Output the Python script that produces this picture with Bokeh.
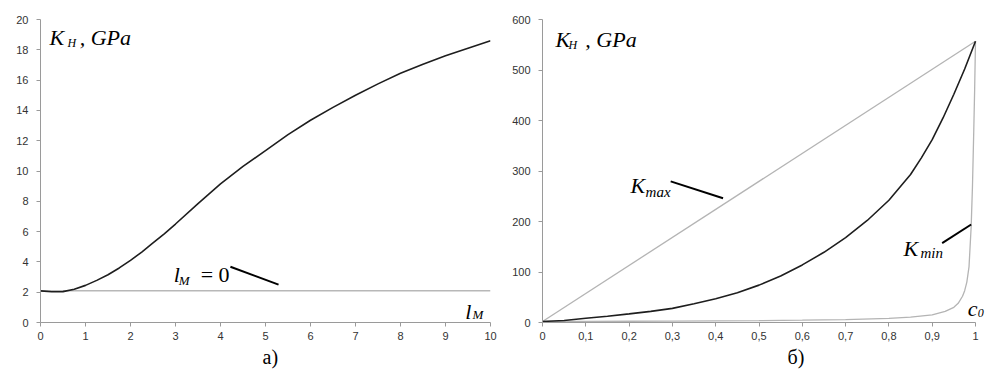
from bokeh.plotting import figure
from bokeh.layouts import row
from bokeh.models import Label, FixedTicker, Range1d, Title
from bokeh.embed import file_html
from bokeh.resources import INLINE

# ---- panel a) data ----
lm = [0, 0.25, 0.5, 0.75, 1, 1.25, 1.5, 1.75, 2, 2.25, 2.5, 2.75, 3, 3.5, 4, 4.5, 5, 5.5, 6,
      6.5, 7, 7.5, 8, 8.5, 9, 9.5, 10]
kh = [2.09, 2.03, 2.04, 2.2, 2.45, 2.78, 3.15, 3.6, 4.1, 4.65, 5.25, 5.85, 6.5, 7.85, 9.15,
      10.3, 11.35, 12.4, 13.35, 14.2, 15.0, 15.75, 16.45, 17.05, 17.6, 18.1, 18.6]
lm0_x = [0, 10]
lm0_y = [2.1, 2.1]
a_xticks = list(range(0, 11))
a_yticks = list(range(0, 21, 2))

# ---- panel б) data ----
c0 = [0, 0.05, 0.1, 0.15, 0.2, 0.25, 0.3, 0.35, 0.4, 0.45, 0.5, 0.55, 0.6, 0.65, 0.7, 0.75, 0.8,
      0.85, 0.875, 0.9, 0.925, 0.95, 0.975, 1.0]
kmid = [2, 4, 8.5, 12.5, 17, 22, 28, 37, 47, 59, 74, 92, 114, 139, 168, 202, 242, 293, 326,
        362, 405, 452, 502, 557]
kmax_x = [0, 1]
kmax_y = [2, 557]
kmin_x = [0, 0.1, 0.2, 0.3, 0.4, 0.5, 0.6, 0.7, 0.8, 0.85, 0.9, 0.93, 0.95, 0.96, 0.97, 0.975,
          0.98, 0.985, 0.99, 0.993, 0.996, 0.998, 1.0]
kmin_y = [2, 2.2, 2.5, 2.8, 3.2, 3.8, 4.6, 5.8, 8, 10.5, 15, 22, 30, 38, 52, 63, 80, 110, 190, 270,
          380, 460, 557]
b_xticks = [0, 0.1, 0.2, 0.3, 0.4, 0.5, 0.6, 0.7, 0.8, 0.9, 1.0]
b_xlabels = ["0", "0,1", "0,2", "0,3", "0,4", "0,5", "0,6", "0,7", "0,8", "0,9", "1"]
b_yticks = [0, 100, 200, 300, 400, 500, 600]

AXIS = "#9a9a9a"
TICKTXT = "#333333"
SERIF = "Liberation Serif"


def style(p, xticks, yticks):
    p.outline_line_color = None
    p.xgrid.visible = False
    p.ygrid.visible = False
    for ax in (p.xaxis[0], p.yaxis[0]):
        ax.axis_line_color = AXIS
        ax.major_tick_line_color = AXIS
        ax.minor_tick_line_color = None
        ax.major_tick_out = 4
        ax.major_tick_in = 0
        ax.major_label_text_font = "Liberation Sans"
        ax.major_label_text_font_size = "11px"
        ax.major_label_text_color = TICKTXT
    p.xaxis[0].ticker = FixedTicker(ticks=xticks)
    p.yaxis[0].ticker = FixedTicker(ticks=yticks)
    p.xaxis[0].major_label_standoff = 5
    p.yaxis[0].major_label_standoff = 8


def lab(p, x, y, text, size="22px", style_="italic", align="left"):
    p.add_layout(Label(x=x, y=y, text=text, text_font=SERIF, text_font_size=size,
                       text_font_style=style_, text_color="black", text_align=align,
                       text_baseline="alphabetic"))


def caption(p, text, offset):
    p.add_layout(Title(text=text, align="left", offset=offset, standoff=3,
                       text_font=SERIF, text_font_size="20px", text_font_style="normal",
                       text_color="black"), "below")


# ---- left figure ----
p1 = figure(width=500, height=371, output_backend="svg", toolbar_location=None,
            x_range=Range1d(0, 10), y_range=Range1d(0, 20),
            min_border_left=40, min_border_right=10, min_border_top=19, min_border_bottom=48)
style(p1, a_xticks, a_yticks)
p1.line(lm0_x, lm0_y, line_color="#b8b8b8", line_width=1.5)
p1.line(lm, kh, line_color="#1e1e1e", line_width=1.6)
p1.line([4.22, 5.29], [3.68, 2.5], line_color="black", line_width=2)
lab(p1, 0.2, 18.8, "K")
lab(p1, 0.6, 18.45, "H", size="12px")
lab(p1, 0.87, 18.8, ", GPa")
lab(p1, 2.96, 3.16, "l")
lab(p1, 3.07, 2.8, "M", size="13px")
lab(p1, 3.56, 3.16, "= 0", style_="normal")
lab(p1, 9.44, 0.72, "l")
lab(p1, 9.6, 0.5, "M", size="13px")
caption(p1, "а)", 222)

# ---- right figure ----
p2 = figure(width=486, height=371, output_backend="svg", toolbar_location=None,
            x_range=Range1d(0, 1.0254), y_range=Range1d(0, 600),
            min_border_left=42, min_border_right=0, min_border_top=18, min_border_bottom=49)
style(p2, b_xticks, b_yticks)
p2.xaxis[0].bounds = (0, 1)
p2.xaxis[0].major_label_overrides = {t: l for t, l in zip(b_xticks, b_xlabels)}
p2.line(kmax_x, kmax_y, line_color="#b4b4b4", line_width=1.3)
p2.line(kmin_x, kmin_y, line_color="#b4b4b4", line_width=1.3)
p2.line(c0, kmid, line_color="#1e1e1e", line_width=1.6)
p2.line([0.296, 0.417], [279.5, 246], line_color="black", line_width=2)
p2.line([0.923, 0.990], [157, 194], line_color="black", line_width=2)
lab(p2, 0.03, 561, "K")
lab(p2, 0.06, 549, "H", size="12px")
lab(p2, 0.099, 561, ", GPa")
lab(p2, 0.203, 271, "K")
lab(p2, 0.238, 258, "max", size="15px")
lab(p2, 0.834, 147, "K")
lab(p2, 0.873, 137, "min", size="15px")
lab(p2, 0.982, 28, "c")
lab(p2, 1.005, 18, "0", size="12px")
caption(p2, "б)", 245)

layout = row(p1, p2)
open("out.html", "w").write(file_html(layout, INLINE))
